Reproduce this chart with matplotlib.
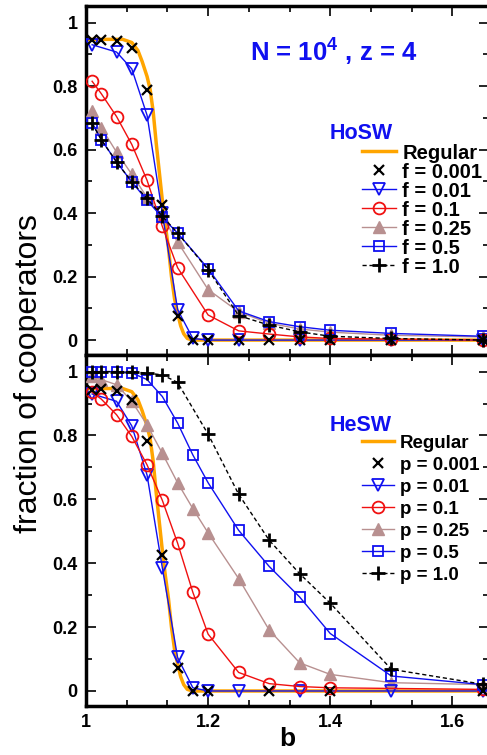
import matplotlib
matplotlib.use("Agg")
import matplotlib.pyplot as plt
from matplotlib.ticker import MultipleLocator
from matplotlib.legend_handler import HandlerLine2D

plt.rcParams['font.family'] = ['Liberation Sans', 'DejaVu Sans']
plt.rcParams['mathtext.fontset'] = 'custom'
plt.rcParams['mathtext.bf'] = 'Liberation Sans:bold'
plt.rcParams['mathtext.default'] = 'bf'

# regular lattice curve (shared by both panels)
reg_b = [1.0, 1.06, 1.075, 1.085, 1.092, 1.1, 1.105, 1.11, 1.115, 1.12, 1.125,
         1.13, 1.135, 1.14, 1.145, 1.15, 1.155, 1.16, 1.166, 1.175, 1.66]
reg_y = [0.947, 0.947, 0.937, 0.912, 0.877, 0.83, 0.79, 0.72, 0.62, 0.53, 0.44,
         0.36, 0.29, 0.2, 0.13, 0.085, 0.045, 0.02, 0.005, 0.0, 0.0]

# ---- HoSW (top panel) ----
ho_x_b = [1.01, 1.025, 1.05, 1.075, 1.1, 1.125, 1.15, 1.175, 1.2, 1.25, 1.3, 1.35, 1.4, 1.5, 1.65]
ho_x_y = [0.945, 0.944, 0.941, 0.92, 0.788, 0.425, 0.075, 0.0, 0.0, 0.0, 0.0, 0.0, 0.0, 0.0, 0.0]

ho_tri_b = [1.01, 1.05, 1.075, 1.1, 1.125, 1.15, 1.175, 1.2, 1.25, 1.35, 1.5, 1.65]
ho_tri_y = [0.93, 0.907, 0.854, 0.708, 0.40, 0.096, 0.005, 0.0, 0.0, 0.0, 0.0, 0.0]

ho_b = [1.01, 1.025, 1.05, 1.075, 1.1, 1.125, 1.15, 1.2, 1.25, 1.3, 1.35, 1.4, 1.5, 1.65]
ho_circ_y = [0.815, 0.776, 0.704, 0.616, 0.503, 0.358, 0.228, 0.079, 0.029, 0.019, 0.010, 0.005, 0.003, 0.0]
ho_up_y = [0.721, 0.669, 0.592, 0.522, 0.449, 0.39, 0.309, 0.159, 0.089, 0.053, 0.035, 0.025, 0.015, 0.01]
ho_sq_y = [0.683, 0.631, 0.561, 0.498, 0.44, 0.386, 0.337, 0.225, 0.092, 0.058, 0.042, 0.031, 0.021, 0.012]
ho_plus_y = [0.683, 0.631, 0.561, 0.498, 0.446, 0.39, 0.337, 0.222, 0.077, 0.047, 0.026, 0.012, 0.005, 0.0]

# ---- HeSW (bottom panel) ----
he_x_b = [1.01, 1.025, 1.05, 1.075, 1.1, 1.125, 1.15, 1.175, 1.2, 1.3, 1.4, 1.65]
he_x_y = [0.943, 0.945, 0.938, 0.91, 0.784, 0.425, 0.073, 0.0, 0.0, 0.0, 0.0, 0.0]

he_tri_b = [1.01, 1.05, 1.075, 1.1, 1.125, 1.15, 1.175, 1.2, 1.25, 1.35, 1.5, 1.65]
he_tri_y = [0.93, 0.907, 0.83, 0.676, 0.386, 0.105, 0.01, 0.0, 0.0, 0.0, 0.0, 0.0]

he_circ_b = [1.01, 1.025, 1.05, 1.075, 1.1, 1.125, 1.15, 1.175, 1.2, 1.25, 1.3, 1.35, 1.4, 1.65]
he_circ_y = [0.935, 0.914, 0.865, 0.797, 0.708, 0.597, 0.463, 0.309, 0.178, 0.058, 0.023, 0.014, 0.01, 0.005]

he_b = [1.01, 1.025, 1.05, 1.075, 1.1, 1.125, 1.15, 1.175, 1.2, 1.25, 1.3, 1.35, 1.4, 1.5, 1.65]
he_up_y = [0.985, 0.975, 0.959, 0.907, 0.833, 0.744, 0.652, 0.571, 0.495, 0.352, 0.191, 0.088, 0.052, 0.026, 0.02]
he_sq_y = [1.0, 1.0, 1.0, 0.996, 0.975, 0.922, 0.839, 0.739, 0.652, 0.503, 0.39, 0.294, 0.18, 0.047, 0.02]

he_plus_b = [1.01, 1.025, 1.05, 1.075, 1.1, 1.125, 1.15, 1.2, 1.25, 1.3, 1.35, 1.4, 1.5, 1.65]
he_plus_y = [1.0, 1.0, 1.0, 1.0, 0.995, 0.99, 0.966, 0.804, 0.616, 0.472, 0.367, 0.275, 0.068, 0.021]

yticks = [0, 0.2, 0.4, 0.6, 0.8, 1.0]
ytick_labels = ['0', '0.2', '0.4', '0.6', '0.8', '1']
xticks = [1.0, 1.2, 1.4, 1.6]
xtick_labels = ['1', '1.2', '1.4', '1.6']

BLUE = '#1010f0'
RED = '#f01010'
BROWN = '#b89090'
ORANGE = '#ffa500'

fig = plt.figure(figsize=(4.87, 7.55), dpi=100)
ax1 = fig.add_axes([86 / 487, 400 / 755, 403 / 487, 349 / 755])
ax2 = fig.add_axes([86 / 487, 49 / 755, 403 / 487, 351 / 755])


def draw_panel(ax, sym, xb, xy, tb, ty, cb, cy, ub, uy, sb, sy, pb, py):
    h_reg, = ax.plot(reg_b, reg_y, color=ORANGE, lw=2.5, label='Regular', zorder=2)
    h_x, = ax.plot(xb, xy, ls='none', marker='x', ms=7, mew=1.6, color='black',
                   label=sym + ' = 0.001', zorder=5)
    h_t, = ax.plot(tb, ty, color=BLUE, lw=1, marker='v', ms=8.5, mfc='none', mew=1.3,
                   label=sym + ' = 0.01', zorder=4)
    h_c, = ax.plot(cb, cy, color=RED, lw=1, marker='o', ms=8.5, mfc='none', mew=1.3,
                   label=sym + ' = 0.1', zorder=4)
    h_u, = ax.plot(ub, uy, color=BROWN, lw=1, marker='^', ms=8, mec=BROWN,
                   label=sym + ' = 0.25', zorder=3)
    h_s, = ax.plot(sb, sy, color=BLUE, lw=1, marker='s', ms=7, mfc='none', mew=1.3,
                   label=sym + ' = 0.5', zorder=4)
    h_p, = ax.plot(pb, py, color='black', lw=1, ls=(0, (3, 2)), marker='+', ms=10, mew=2,
                   label=sym + ' = 1.0', zorder=5)
    return [h_reg, h_x, h_t, h_c, h_u, h_s, h_p]


hs1 = draw_panel(ax1, 'f', ho_x_b, ho_x_y, ho_tri_b, ho_tri_y, ho_b, ho_circ_y,
                 ho_b, ho_up_y, ho_b, ho_sq_y, ho_b, ho_plus_y)
hs2 = draw_panel(ax2, 'p', he_x_b, he_x_y, he_tri_b, he_tri_y, he_circ_b, he_circ_y,
                 he_b, he_up_y, he_b, he_sq_y, he_plus_b, he_plus_y)

for ax, hs, top, spacing, fsize, name, ny in [(ax1, hs1, 0.606, 0.0, 14.5, 'HoSW', 0.636),
                                              (ax2, hs2, 0.773, 0.26, 13.5, 'HeSW', 0.80)]:
    ax.set_xlim(1.0, 1.66)
    ax.set_ylim(-0.047, 1.052)
    ax.set_yticks(yticks)
    ax.set_yticklabels(ytick_labels)
    ax.yaxis.set_minor_locator(MultipleLocator(0.1))
    ax.set_xticks(xticks)
    ax.xaxis.set_minor_locator(MultipleLocator(0.2 / 3))
    ax.tick_params(which='both', direction='in', top=True, right=True, width=1.2,
                   labelsize=13, pad=6)
    ax.tick_params(which='major', length=7)
    ax.tick_params(which='minor', length=4)
    for lab in ax.get_xticklabels() + ax.get_yticklabels():
        lab.set_fontweight('bold')
    for sp in ax.spines.values():
        sp.set_linewidth(2.5)
    leg = ax.legend(handles=hs, loc='upper left', bbox_to_anchor=(0.685, top),
                    frameon=False, borderpad=0, borderaxespad=0,
                    handlelength=1.7, handletextpad=0.3, labelspacing=spacing,
                    prop={'weight': 'bold', 'size': fsize},
                    handler_map={hs[1]: HandlerLine2D(numpoints=1)})
    ax.text(0.605, ny, name, transform=ax.transAxes, color=BLUE, fontsize=15.5,
            fontweight='bold', va='center', ha='left')

ax1.set_xticklabels([])
ax2.set_xticklabels(xtick_labels)
for lab in ax2.get_xticklabels():
    lab.set_fontweight('bold')
ax2.set_xlabel('b', fontsize=19, fontweight='bold', labelpad=-3)

ax1.text(0.615, 0.868, r'N = 10$^{4}$ , z = 4', transform=ax1.transAxes, color=BLUE,
         fontsize=18.5, fontweight='bold', ha='center', va='center')

fig.text(0.06, 0.505, 'fraction of cooperators', rotation=90, fontsize=23,
         ha='center', va='center')

fig.savefig('out.png', dpi=100)
